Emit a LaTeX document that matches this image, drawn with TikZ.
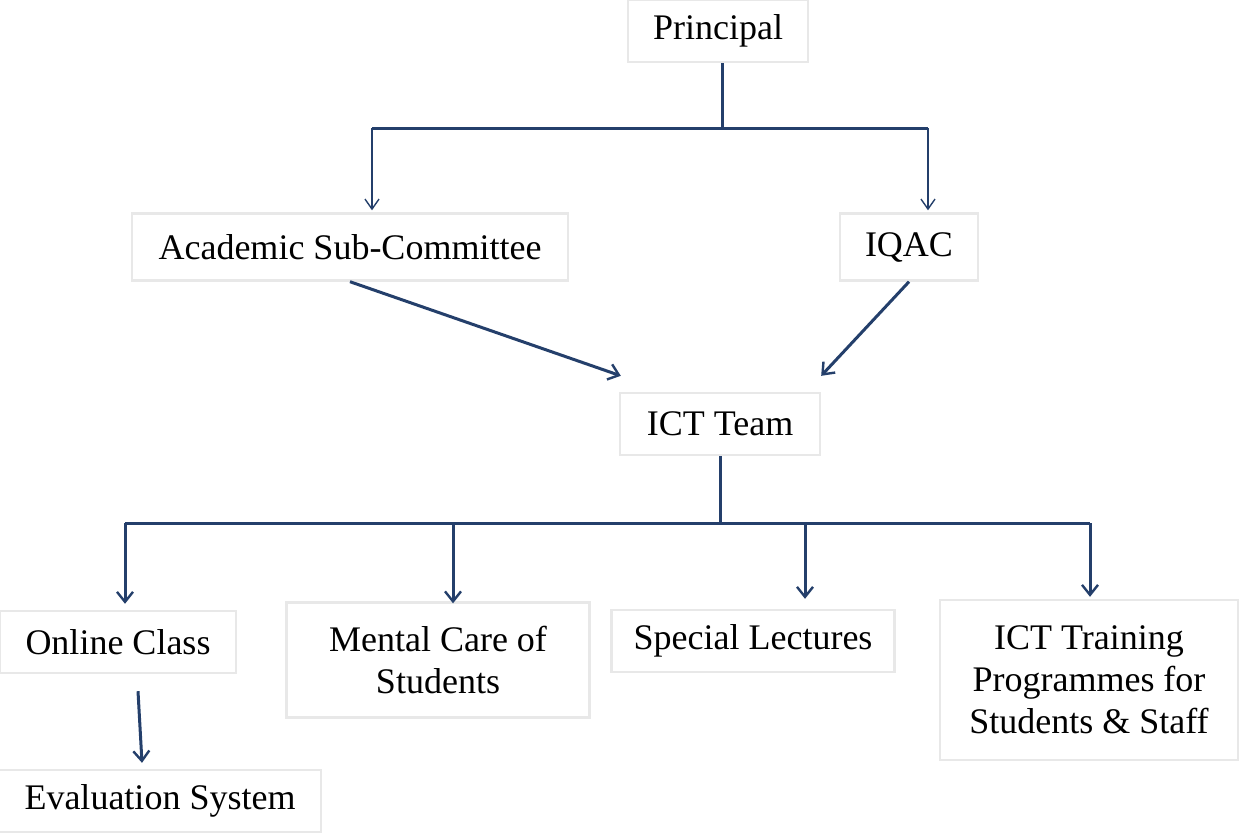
\documentclass[tikz,border=0pt]{standalone}
\usepackage{fontspec}
\setmainfont{Liberation Serif}
\usetikzlibrary{arrows.meta,calc}
\definecolor{lineblue}{HTML}{243F6B}
\definecolor{boxgray}{HTML}{E8E8E8}
\begin{document}
\begin{tikzpicture}[x=0.5pt,y=-0.5pt,
  box/.style={draw=boxgray,line width=1.2pt,fill=white,align=center,inner sep=0pt,
    font=\fontsize{18}{21}\selectfont},
  link/.style={draw=lineblue,line width=1.5pt},
  arr/.style={link,-{Straight Barb[length=5pt,width=8pt,line width=1.2pt]}},
  thinarr/.style={draw=lineblue,line width=0.7pt,-{Straight Barb[length=5pt,width=7pt,line width=0.7pt]}}]
\useasboundingbox[fill=white] (0,0) rectangle (1239,832);
\node[box,minimum width=90pt,minimum height=31pt] (principal) at (718,31) {Principal};
\node[box,minimum width=218pt,minimum height=33.5pt] (acad) at (350,247) {Academic Sub-Committee};
\node[box,minimum width=69pt,minimum height=33.5pt] (iqac) at (909,247) {IQAC};
\node[box,minimum width=100pt,minimum height=31pt] (ict) at (720,424) {ICT Team};
\node[box,minimum width=118pt,minimum height=31pt] (online) at (118,642) {Online Class};
\node[box,minimum width=151.5pt,minimum height=57.5pt] (mental) at (438,660) {Mental Care of\\Students};
\node[box,minimum width=141.5pt,minimum height=31pt] (special) at (753,641) {Special Lectures};
\node[box,minimum width=149pt,minimum height=80pt] (training) at (1089,680) {ICT Training\\Programmes for\\Students \& Staff};
\node[box,minimum width=161pt,minimum height=31pt] (eval) at (160,801) {Evaluation System};
% top tree
\coordinate (pj) at (722,128);
\coordinate (la) at (372,128);
\coordinate (ra) at (928,128);
\draw[link] (principal.south -| pj) -- (pj);
\draw[link] (la) -- (ra);
\draw[thinarr] (la) -- ([shift={(0,-2)}]la |- acad.north);
\draw[thinarr] (ra) -- ([shift={(0,-2)}]ra |- iqac.north);
% diagonals
\draw[arr] (acad.south) -- ($(ict.north west)+(2,-16)$);
\draw[arr] (iqac.south) -- ($(ict.north east)+(0,-16)$);
% bottom tree
\coordinate (bj) at (720,523);
\coordinate (b1) at (125,523);
\coordinate (b2) at (453,523);
\coordinate (b3) at (805,523);
\coordinate (b4) at (1090,523);
\draw[link] (ict.south) -- (bj);
\draw[link] (b1) -- (b4);
\draw[arr] (b1) -- ([shift={(0,-6)}]b1 |- online.north);
\draw[arr] (b2) -- ([shift={(0,2)}]b2 |- mental.north);
\draw[arr] (b3) -- ([shift={(0,-10)}]b3 |- special.north);
\draw[arr] (b4) -- ([shift={(0,-2)}]b4 |- training.north);
\draw[arr] ([shift={(20,17)}]online.south) -- ([shift={(-18,-6)}]eval.north);
\end{tikzpicture}
\end{document}
